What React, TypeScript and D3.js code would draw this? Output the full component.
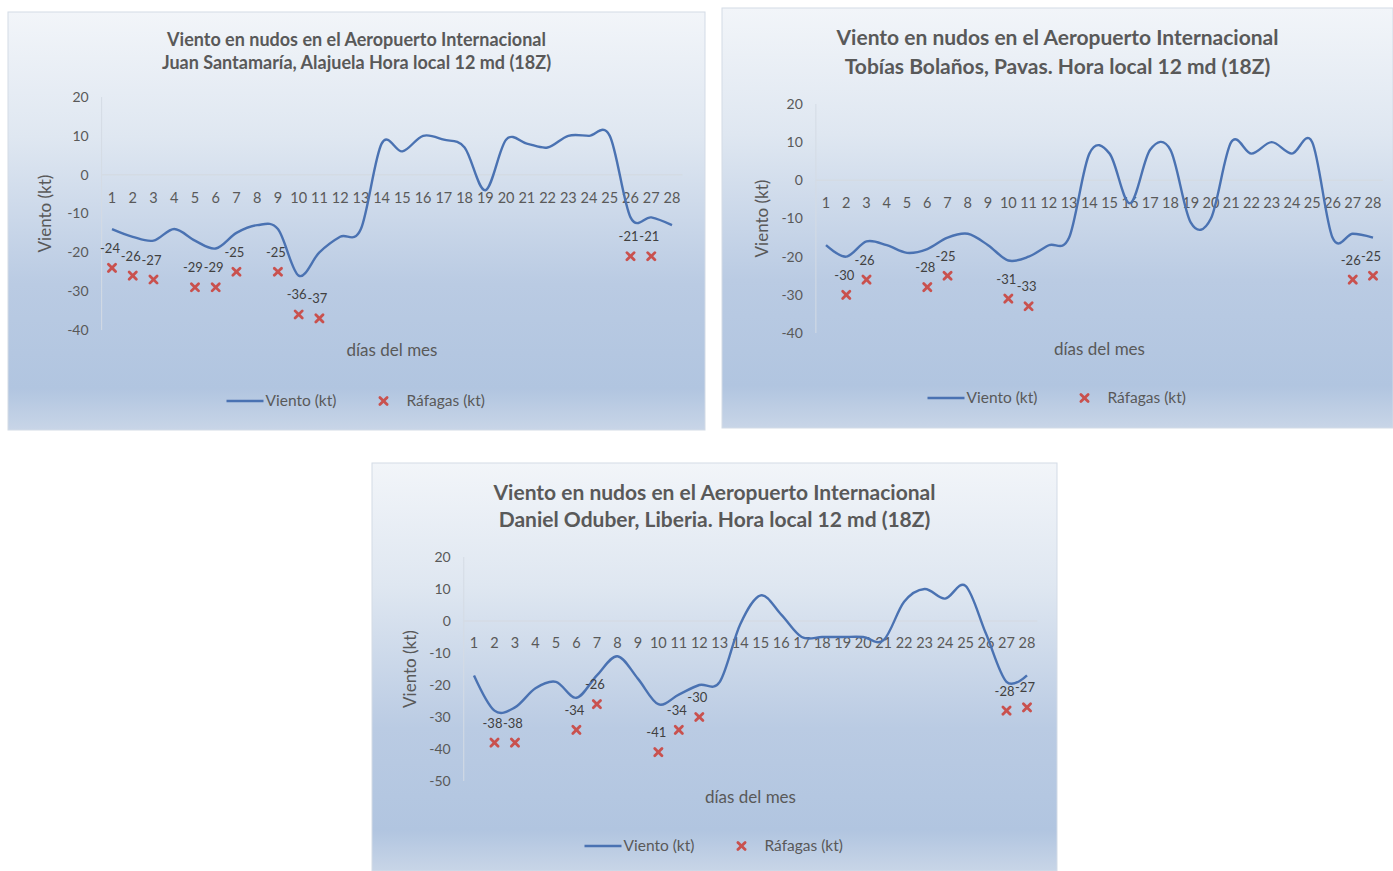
import React from 'react';
import * as d3 from 'd3';

// días del mes
const days = [1, 2, 3, 4, 5, 6, 7, 8, 9, 10, 11, 12, 13, 14, 15, 16, 17, 18, 19, 20, 21, 22, 23, 24, 25, 26, 27, 28];

// Juan Santamaría, Alajuela
const santamariaViento = [-14, -16, -17, -14, -17, -19, -15, -13, -14, -26, -20, -16, -14, 8, 6, 10, 9, 7, -4, 9, 8, 7, 10, 10, 10, -11, -11, -13];
const santamariaRafagas = [-24, -26, -27, null, -29, -29, -25, null, -25, -36, -37, null, null, null, null, null, null, null, null, null, null, null, null, null, null, -21, -21, null];

// Tobías Bolaños, Pavas
const pavasViento = [-17, -20, -16, -17, -19, -18, -15, -14, -17, -21, -20, -17, -15, 7, 7, -6, 8, 8, -11, -10, 10, 7, 10, 7, 10, -15, -14, -15];
const pavasRafagas = [null, -30, -26, null, null, -28, -25, null, null, -31, -33, null, null, null, null, null, null, null, null, null, null, null, null, null, null, null, -26, -25];

// Daniel Oduber, Liberia
const liberiaViento = [-17, -28, -27, -21, -19, -24, -17, -11, -18, -26, -23, -20, -19, -1, 8, 2, -5, -5, -5, -5, -6, 6, 10, 7, 11, -4, -19, -17];
const liberiaRafagas = [null, -38, -38, null, null, -34, -26, null, null, -41, -34, -30, null, null, null, null, null, null, null, null, null, null, null, null, null, null, -28, -27];

const ticks4 = [20, 10, 0, -10, -20, -30, -40];
const ticks5 = [20, 10, 0, -10, -20, -30, -40, -50];

const FONT = 'Lato, "Open Sans", sans-serif';
const TEXT = '#595959';
const LINE = '#4a72b2';
const MARK = '#c9514e';

interface ChartProps {
    id: string;
    box: { x: number; y: number; w: number; h: number };
    title: [string, string];
    titleY: [number, number];
    titleSize: number;
    viento: number[];
    rafagas: (number | null)[];
    yTicks: number[];
    xFirst: number;
    xLast: number;
    yTop: number;
    yBottom: number;
    xLabelY: number;
    xTitleY: number;
    yTitleX: number;
    legendY: number;
}

const Chart: React.FC<ChartProps> = (p) => {
    const step = (p.xLast - p.xFirst) / (days.length - 1);
    const x = d3.scaleBand<number>()
        .domain(days)
        .range([p.xFirst - step / 2, p.xLast + step / 2]);
    const cx = (d: number) => (x(d) as number) + x.bandwidth() / 2;
    const y = d3.scaleLinear()
        .domain([p.yTicks[p.yTicks.length - 1], p.yTicks[0]])
        .range([p.yBottom, p.yTop]);

    const line = d3.line<number>()
        .x((_, i) => cx(days[i]))
        .y(d => y(d))
        .curve(d3.curveCardinal.tension(0));

    const centerX = p.box.x + p.box.w / 2;
    const plotLeft = p.xFirst - step / 2;
    const plotRight = p.xLast + step / 2;
    const legX = centerX - 130;

    const cross = (px: number, py: number, key: string) => (
        <g key={key} stroke={MARK} strokeWidth={2.8} strokeLinecap="round">
            <line x1={px - 3.6} y1={py - 3.6} x2={px + 3.6} y2={py + 3.6} />
            <line x1={px - 3.6} y1={py + 3.6} x2={px + 3.6} y2={py - 3.6} />
        </g>
    );

    return (
        <g fontFamily={FONT}>
            <defs>
                <linearGradient id={`bg-${p.id}`} x1="0" y1="0" x2="0" y2="1">
                    <stop offset="0%" stopColor="#f2f5f9" />
                    <stop offset="30%" stopColor="#dfe7f1" />
                    <stop offset="65%" stopColor="#bacbe3" />
                    <stop offset="90%" stopColor="#b1c5e0" />
                    <stop offset="100%" stopColor="#c8d5e7" />
                </linearGradient>
            </defs>
            <rect x={p.box.x} y={p.box.y} width={p.box.w} height={p.box.h}
                fill={`url(#bg-${p.id})`} stroke="#d3dbe6" strokeWidth={1} />

            {/* title */}
            {p.title.map((t, i) => (
                <text key={i} x={centerX} y={p.titleY[i]} textAnchor="middle"
                    fontSize={p.titleSize} fontWeight="bold" fill={TEXT}>{t}</text>
            ))}

            {/* vertical axis line and zero line */}
            <line x1={plotLeft} x2={plotLeft} y1={p.yTop} y2={p.yBottom} stroke="#d4dbe4" strokeWidth={1} />
            <line x1={plotLeft} x2={plotRight} y1={y(0)} y2={y(0)} stroke="#d4dbe4" strokeWidth={1.5} />

            {/* y ticks */}
            {p.yTicks.map(t => (
                <text key={t} x={plotLeft - 13} y={y(t)} dy="0.35em" textAnchor="end"
                    fontSize={14} fill={TEXT}>{t}</text>
            ))}

            {/* x labels (days) */}
            {days.map(d => (
                <text key={d} x={cx(d)} y={p.xLabelY} dy="0.35em" textAnchor="middle"
                    fontSize={14.5} fill={TEXT}>{d}</text>
            ))}

            {/* wind line */}
            <path d={line(p.viento) ?? ''} fill="none" stroke={LINE} strokeWidth={2.4} />

            {/* gusts */}
            {p.rafagas.map((v, i) => v === null ? null : (
                <g key={i}>
                    {cross(cx(days[i]), y(v), `m${i}`)}
                    <text x={cx(days[i]) - 2} y={y(v) - 15} textAnchor="middle"
                        fontSize={13} fill="#404040">{v}</text>
                </g>
            ))}

            {/* axis titles */}
            <text x={(plotLeft + plotRight) / 2} y={p.xTitleY} dy="0.35em" textAnchor="middle"
                fontSize={17} fill={TEXT}>días del mes</text>
            <text transform={`translate(${p.yTitleX},${(p.yTop + p.yBottom) / 2}) rotate(-90)`}
                dy="0.35em" textAnchor="middle" fontSize={17} fill={TEXT}>Viento (kt)</text>

            {/* legend */}
            <line x1={legX} x2={legX + 37} y1={p.legendY} y2={p.legendY} stroke={LINE} strokeWidth={2.4} />
            <text x={legX + 39} y={p.legendY} dy="0.35em" fontSize={15.5} fill={TEXT}>Viento (kt)</text>
            {cross(centerX + 27, p.legendY, 'leg')}
            <text x={centerX + 50} y={p.legendY} dy="0.35em" fontSize={15.5} fill={TEXT}>Ráfagas (kt)</text>
        </g>
    );
};

const App: React.FC = () => (
    <svg width={1393} height={871} style={{ position: 'absolute', left: 0, top: 0, background: '#ffffff' }}>
        <Chart id="c1"
            box={{ x: 8, y: 12, w: 697, h: 418 }}
            title={['Viento en nudos en el Aeropuerto Internacional', 'Juan Santamaría, Alajuela Hora local 12 md (18Z)']}
            titleY={[46, 69]} titleSize={18}
            viento={santamariaViento} rafagas={santamariaRafagas} yTicks={ticks4}
            xFirst={112} xLast={672} yTop={97} yBottom={330}
            xLabelY={198} xTitleY={350} yTitleX={45} legendY={401} />
        <Chart id="c2"
            box={{ x: 722, y: 8, w: 671, h: 420 }}
            title={['Viento en nudos en el Aeropuerto Internacional', 'Tobías Bolaños, Pavas. Hora local 12 md (18Z)']}
            titleY={[45, 74]} titleSize={21}
            viento={pavasViento} rafagas={pavasRafagas} yTicks={ticks4}
            xFirst={826} xLast={1373} yTop={104} yBottom={333}
            xLabelY={203} xTitleY={349} yTitleX={762} legendY={398} />
        <Chart id="c3"
            box={{ x: 372, y: 463, w: 685, h: 408 }}
            title={['Viento en nudos en el Aeropuerto Internacional', 'Daniel Oduber, Liberia. Hora local 12 md (18Z)']}
            titleY={[500, 527]} titleSize={21}
            viento={liberiaViento} rafagas={liberiaRafagas} yTicks={ticks5}
            xFirst={474} xLast={1027} yTop={557} yBottom={781}
            xLabelY={643} xTitleY={797} yTitleX={410} legendY={846} />
    </svg>
);

export default App;
